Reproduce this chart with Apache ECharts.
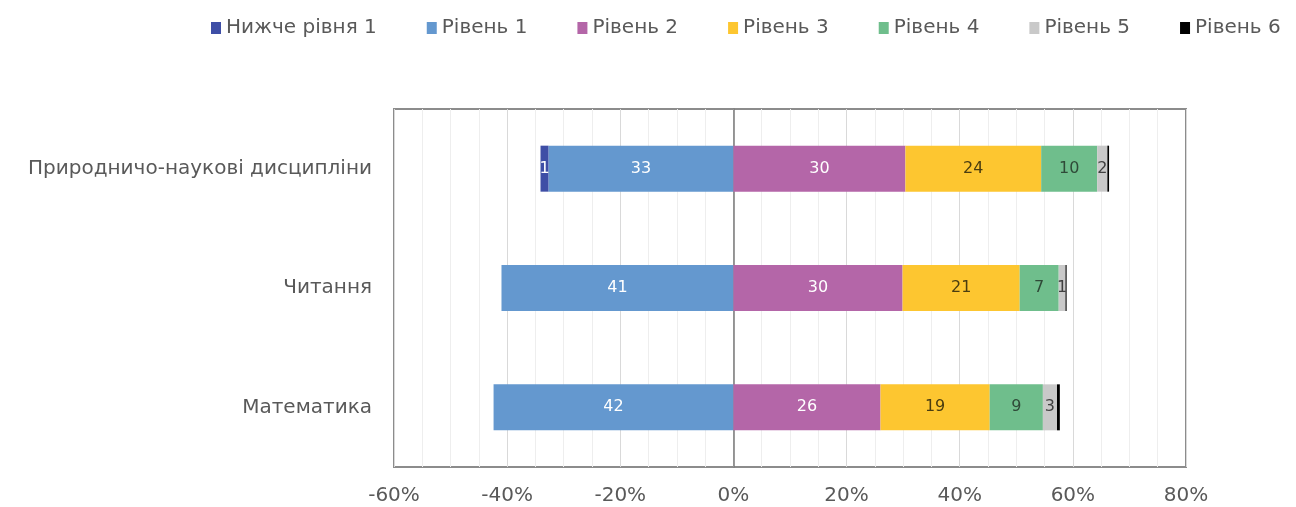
<!DOCTYPE html>
<html>
<head>
<meta charset="utf-8">
<script src="https://cdn.jsdelivr.net/npm/echarts@6/dist/echarts.min.js"></script>
<style>
  html, body { margin: 0; padding: 0; background: #fff; }
  #chart { width: 1296px; height: 507px; }
</style>
</head>
<body>
<div id="chart"></div>
<script>
// categories top to bottom
var categories = ['Природничо-наукові дисципліни', 'Читання', 'Математика'];
var legendNames = ['Нижче рівня 1', 'Рівень 1', 'Рівень 2', 'Рівень 3', 'Рівень 4', 'Рівень 5', 'Рівень 6'];

// % of students, left side is negative
var below1 = [-1.4, 0, 0];
var level1 = [-32.7, -41, -42.4];
var level2 = [30.4, 29.9, 26];
var level3 = [24, 20.7, 19.3];
var level4 = [9.9, 6.9, 9.4];
var level5 = [1.8, 1.2, 2.5];
var level6 = [0.3, 0.2, 0.5];

var colors = {
  'Нижче рівня 1': '#3e4ea6',
  'Рівень 1': '#6498cf',
  'Рівень 2': '#b466a8',
  'Рівень 3': '#fdc630',
  'Рівень 4': '#6fbe8c',
  'Рівень 5': '#c9c9c9',
  'Рівень 6': '#000000'
};

var font = 'DejaVu Sans';

function lbl(color, show) {
  return {
    show: show,
    position: 'inside',
    color: color,
    fontSize: 16,
    fontFamily: font,
    formatter: function (p) {
      var v = Math.round(Math.abs(p.value));
      return v ? String(v) : '';
    }
  };
}

function bar(name, data, labelColor, showLabel) {
  return {
    name: name,
    type: 'bar',
    stack: 'all',
    barWidth: 46,
    data: data,
    itemStyle: { color: colors[name] },
    label: lbl(labelColor, showLabel)
  };
}

var myChart = echarts.init(document.getElementById('chart'));
myChart.setOption({
  animation: false,
  legend: {
    data: legendNames,
    top: 13,
    left: 206,
    itemWidth: 10,
    itemHeight: 12,
    itemGap: 50,
    icon: 'rect',
    textStyle: { color: '#595959', fontSize: 20, fontFamily: font }
  },
  grid: {
    left: 394,
    right: 110,
    top: 109,
    bottom: 40,
    show: true,
    borderColor: '#8c8c8c',
    borderWidth: 2
  },
  xAxis: {
    type: 'value',
    min: -60,
    max: 80,
    interval: 20,
    axisLine: { show: false },
    axisTick: { show: false },
    axisLabel: {
      formatter: '{value}%',
      color: '#595959',
      fontSize: 20,
      fontFamily: font,
      margin: 19
    },
    splitLine: { show: true, lineStyle: { color: '#d9d9d9', width: 1 } },
    minorTick: { show: false, splitNumber: 4 },
    minorSplitLine: { show: true, lineStyle: { color: '#eeeeee', width: 1 } }
  },
  yAxis: {
    type: 'category',
    inverse: true,
    data: categories,
    axisLine: { show: true, onZero: true, lineStyle: { color: '#7a7a7a', width: 1.5 } },
    axisTick: { show: false },
    axisLabel: {
      color: '#595959',
      fontSize: 20,
      fontFamily: font,
      margin: 22
    }
  },
  series: [
    bar('Рівень 1', level1, '#ffffff', true),
    bar('Нижче рівня 1', below1, '#ffffff', true),
    bar('Рівень 2', level2, '#ffffff', true),
    bar('Рівень 3', level3, '#4a3d10', true),
    bar('Рівень 4', level4, '#2f4a38', true),
    bar('Рівень 5', level5, '#404040', true),
    bar('Рівень 6', level6, '#000000', false)
  ]
});
</script>
</body>
</html>
